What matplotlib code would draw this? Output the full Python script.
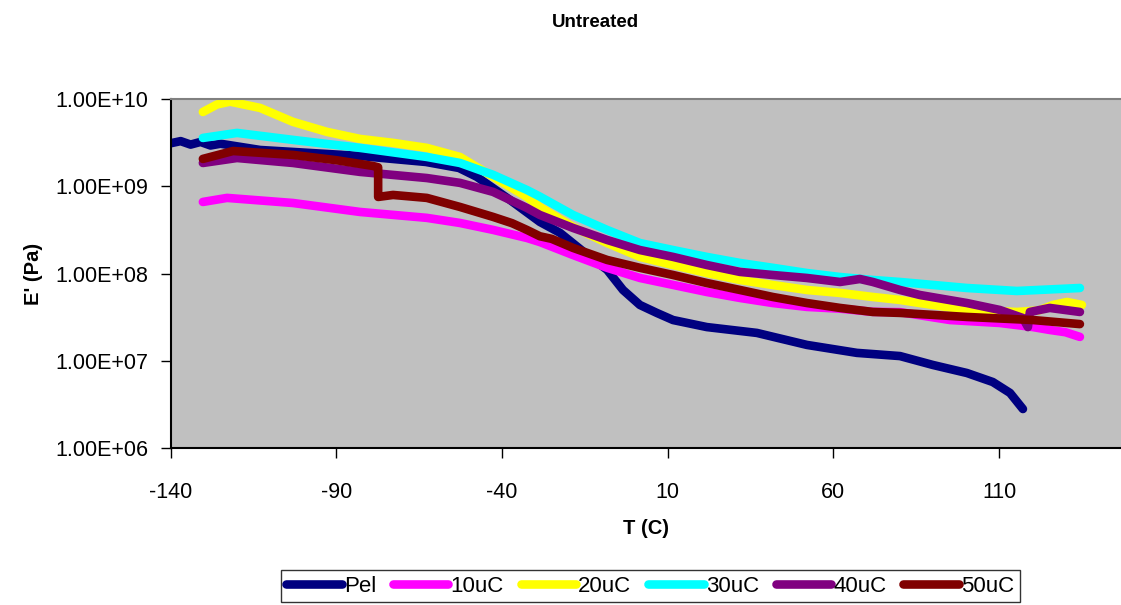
import numpy as np
import matplotlib
matplotlib.use("Agg")
from matplotlib import pyplot as plt
from matplotlib.ticker import FixedLocator, FuncFormatter

plt.rcParams['font.family'] = ['Liberation Sans', 'DejaVu Sans']
plt.rcParams['axes.unicode_minus'] = False

# storage modulus E' (Pa) vs temperature T (C)
T_pel = [-140, -137, -134, -131, -128, -125, -113, -83, -63, -53, -47.6, -37.6, -28.6, -22.5,
         -13.5, -8.3, -3.5, 1.6, 6.7, 11.6, 21.8, 36.9, 52, 67.1, 80.1, 90, 100.3, 108.1, 113.3, 117.2]
E_pel = [3.13e9, 3.31e9, 3.02e9, 3.24e9, 2.95e9, 3.09e9, 2.62e9, 2.24e9, 1.91e9, 1.63e9, 1.29e9,
         7.01e8, 3.93e8, 2.94e8, 1.56e8, 1.11e8, 6.52e7, 4.39e7, 3.56e7, 2.95e7, 2.45e7, 2.10e7,
         1.53e7, 1.24e7, 1.14e7, 9.02e6, 7.29e6, 5.75e6, 4.31e6, 2.82e6]

T_10 = [-130.3, -123, -103.1, -82.9, -62.7, -52.7, -42.7, -32.5, -28.6, -18.6, -8.3, 1.6, 11.6,
        21.8, 31.8, 41.7, 52, 62, 71.9, 80.1, 95.2, 110.2, 120.2, 125.3, 130, 134.4]
E_10 = [6.65e8, 7.40e8, 6.47e8, 5.11e8, 4.37e8, 3.82e8, 3.18e8, 2.57e8, 2.31e8, 1.64e8, 1.17e8,
        8.95e7, 7.45e7, 6.18e7, 5.28e7, 4.62e7, 4.17e7, 3.98e7, 3.66e7, 3.63e7, 2.95e7, 2.73e7,
        2.45e7, 2.27e7, 2.14e7, 1.89e7]

T_20 = [-130.3, -126, -122.1, -113, -103.1, -92.8, -82.9, -72.9, -62.7, -52.7, -42.7, -32.5,
        -28.6, -18.6, -8.3, 1.6, 11.6, 21.8, 31.8, 41.7, 52, 62, 71.9, 80.1, 86.1, 100.3, 115.4,
        122, 126.3, 130.5, 135]
E_20 = [7.14e9, 8.71e9, 9.38e9, 7.94e9, 5.50e9, 4.22e9, 3.51e9, 3.16e9, 2.77e9, 2.18e9, 1.29e9,
        7.59e8, 5.83e8, 3.44e8, 2.25e8, 1.56e8, 1.26e8, 1.02e8, 8.49e7, 7.43e7, 6.52e7, 6.03e7,
        5.42e7, 5.01e7, 4.62e7, 3.85e7, 3.65e7, 3.80e7, 4.39e7, 4.75e7, 4.39e7]

T_30 = [-130.3, -120, -103.1, -82.9, -62.7, -52.7, -42.7, -32.5, -28.6, -18.6, -8.3, 1.6, 11.6,
        21.8, 31.8, 41.7, 52, 62, 71.9, 80.1, 100.3, 115.4, 134.4]
E_30 = [3.60e9, 4.11e9, 3.42e9, 2.77e9, 2.18e9, 1.86e9, 1.36e9, 9.12e8, 7.66e8, 4.72e8, 3.18e8,
        2.25e8, 1.87e8, 1.56e8, 1.33e8, 1.17e8, 1.02e8, 9.18e7, 8.49e7, 8.05e7, 6.87e7, 6.35e7, 6.87e7]

T_40 = [-130.3, -120, -103.1, -82.9, -62.7, -52.7, -42.7, -32.5, -28.6, -18.6, -8.3, 1.6, 11.6,
        21.8, 31.8, 41.7, 52, 62, 68, 71.9, 80.1, 86.1, 100.3, 110.2, 117.2, 118.7, 119.3, 125.3, 134.4]
E_40 = [1.86e9, 2.12e9, 1.86e9, 1.47e9, 1.25e9, 1.10e9, 8.67e8, 5.68e8, 4.72e8, 3.35e8, 2.44e8,
        1.87e8, 1.56e8, 1.26e8, 1.05e8, 9.68e7, 8.95e7, 8.05e7, 8.71e7, 8.05e7, 6.52e7, 5.71e7,
        4.62e7, 3.85e7, 3.11e7, 2.45e7, 3.65e7, 4.06e7, 3.65e7]

T_50 = [-130.3, -121.2, -103.1, -90, -79, -77.4, -77.4, -72.9, -62.7, -52.7, -42.7, -37, -32.5,
        -28.6, -25, -18.6, -8.3, 1.6, 11.6, 21.8, 31.8, 41.7, 52, 62, 71.9, 80.1, 100.3, 120.2, 134.4]
E_50 = [2.07e9, 2.55e9, 2.30e9, 2.00e9, 1.72e9, 1.66e9, 7.59e8, 8.00e8, 7.40e8, 5.83e8, 4.48e8,
        3.80e8, 3.18e8, 2.69e8, 2.51e8, 1.98e8, 1.44e8, 1.17e8, 9.68e7, 7.83e7, 6.52e7, 5.42e7,
        4.62e7, 4.06e7, 3.65e7, 3.56e7, 3.20e7, 2.95e7, 2.65e7]

series = [
    ("Pel", T_pel, E_pel, "#000080"),
    ("10uC", T_10, E_10, "#FF00FF"),
    ("20uC", T_20, E_20, "#FFFF00"),
    ("30uC", T_30, E_30, "#00FFFF"),
    ("40uC", T_40, E_40, "#800080"),
    ("50uC", T_50, E_50, "#800000"),
]

x_ticks = [-140, -90, -40, 10, 60, 110]
y_ticks = [1e6, 1e7, 1e8, 1e9, 1e10]

fig = plt.figure(figsize=(11.21, 6.05), dpi=100)
ax = fig.add_axes([0.1523, 0.259, 0.8477, 0.577])
ax.set_facecolor("#C0C0C0")

for name, t, e, col in series:
    ax.plot(t, e, c=col, lw=6.2, solid_capstyle='round', solid_joinstyle='round', label=name)

ax.set_yscale('log')
ax.set_xlim(-140, 146.8)
ax.set_ylim(1e6, 1e10)
ax.xaxis.set_major_locator(FixedLocator(x_ticks))
ax.yaxis.set_major_locator(FixedLocator(y_ticks))
ax.yaxis.set_minor_locator(FixedLocator([]))
ax.yaxis.set_major_formatter(FuncFormatter(lambda v, p: "%.2E" % v))
ax.tick_params(axis='both', direction='out', length=7, width=1, labelsize=15.5, color='black')
ax.tick_params(axis='x', pad=17)
ax.tick_params(axis='y', pad=9)

for s in ['left', 'bottom']:
    ax.spines[s].set_color('black')
    ax.spines[s].set_linewidth(1.5)
ax.spines['top'].set_color('#808080')
ax.spines['top'].set_linewidth(1.5)
ax.spines['right'].set_visible(False)

ax.set_xlabel("T (C)", fontsize=14.5, fontweight='bold', labelpad=12)
ax.set_ylabel("E' (Pa)", fontsize=14.5, fontweight='bold', labelpad=9)
fig.text(0.531, 0.963, "Untreated", ha='center', va='center', fontsize=13.5, fontweight='bold')

leg = fig.legend(loc='center', bbox_to_anchor=(0.580, 0.031), ncol=6, fontsize=16,
                 handlelength=2.5, handletextpad=0.1, columnspacing=0.75,
                 frameon=True, fancybox=False, edgecolor='black', borderpad=0.25,
                 borderaxespad=0)
leg.get_frame().set_linewidth(1.0)

fig.savefig("out.png", dpi=100)
